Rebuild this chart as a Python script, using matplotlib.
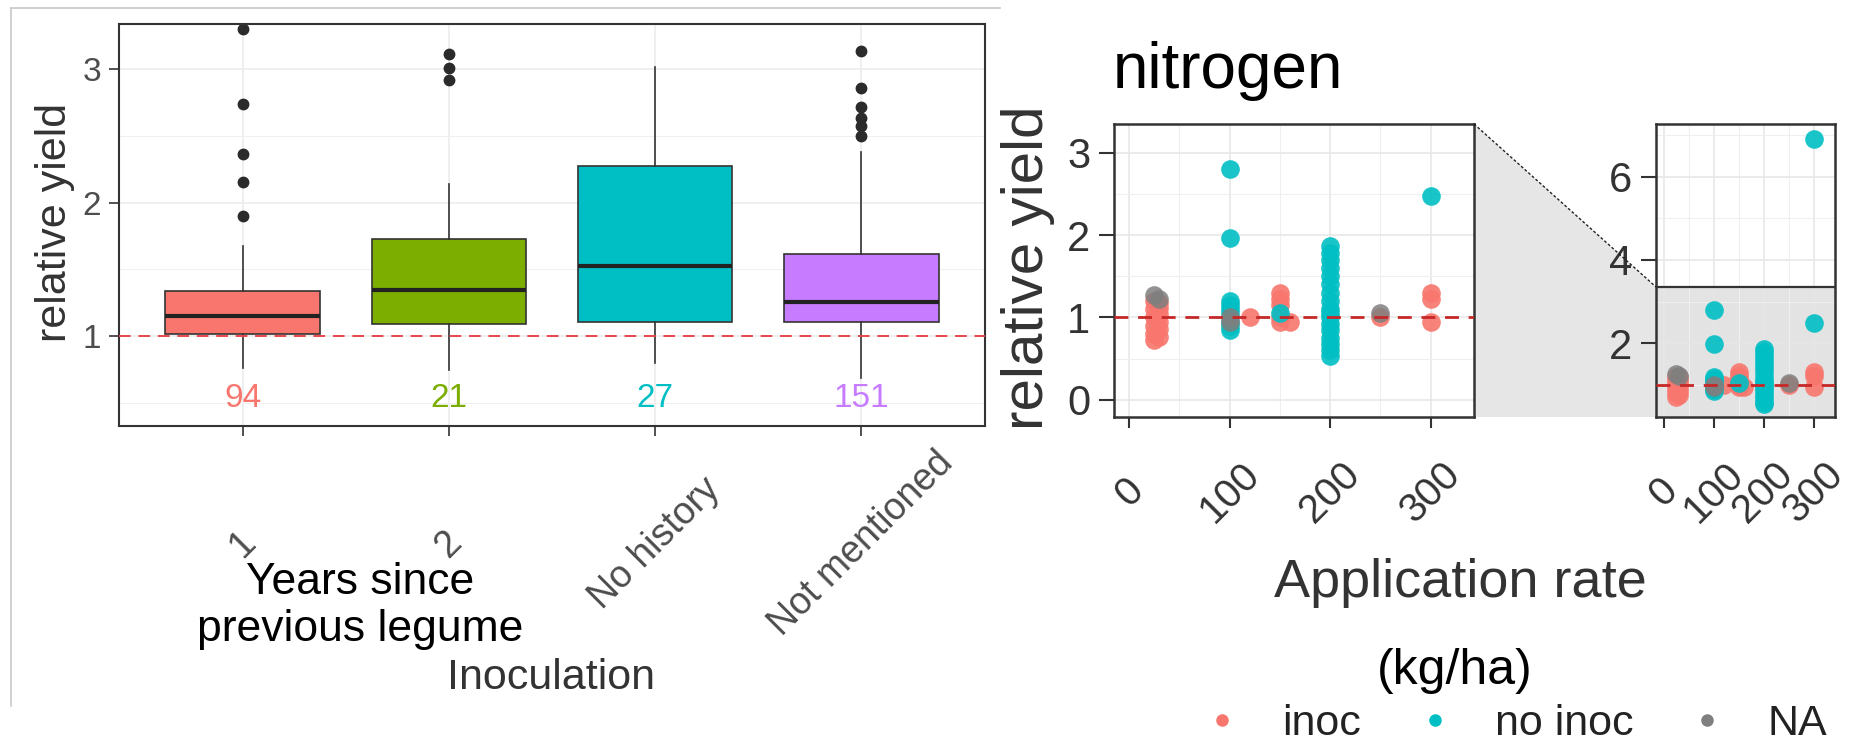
import matplotlib
matplotlib.use("Agg")
import matplotlib.pyplot as plt
from matplotlib.lines import Line2D
from matplotlib.patches import Polygon
from matplotlib.ticker import FixedLocator

plt.rcParams["font.family"] = ["Liberation Sans", "DejaVu Sans"]

# =========================
# Data: left panel (boxplots of relative yield by inoculation history)
# =========================

groups = ["1", "2", "No history", "Not mentioned"]
counts = [94, 21, 27, 151]
box_colors = ["#F8766D", "#7CAE00", "#00BFC4", "#C77CFF"]

q1 = [1.015, 1.09, 1.107, 1.103]
med = [1.152, 1.345, 1.527, 1.257]
q3 = [1.337, 1.729, 2.27, 1.614]
whislo = [0.763, 0.745, 0.795, 0.685]
whishi = [1.676, 2.136, 3.017, 2.38]
fliers = [
    [3.30, 2.74, 2.36, 2.15, 1.90],
    [3.11, 3.005, 2.92],
    [],
    [3.137, 2.855, 2.713, 2.63, 2.573, 2.498],
]

# =========================
# Data: right panels (nitrogen application rate)
# =========================

inoc_rate = [25, 25, 25, 25, 25, 25, 30, 30, 30, 30, 30, 30,
             120, 150, 150, 150, 150, 150, 160, 250, 300, 300, 300]
inoc_yield = [0.72, 0.80, 0.90, 1.00, 1.10, 1.20, 0.76, 0.86, 0.95, 1.04, 1.12, 1.18,
              1.00, 1.30, 1.22, 1.15, 1.00, 0.95, 0.95, 1.00, 1.30, 1.22, 0.95]

noinoc_rate = [100, 100, 100, 100, 100, 100, 100, 100, 100, 150,
               200, 200, 200, 200, 200, 200, 200, 200, 200, 200, 200, 200, 200, 200, 200, 200, 200,
               300, 300]
noinoc_yield = [2.80, 1.97, 0.85, 0.90, 0.95, 1.05, 1.10, 1.15, 1.20, 1.05,
                0.53, 0.60, 0.68, 0.75, 0.85, 0.92, 1.00, 1.05, 1.10, 1.20, 1.30, 1.40, 1.50, 1.60, 1.70, 1.78, 1.87,
                2.48, 6.90]

na_rate = [25, 30, 100, 100, 250]
na_yield = [1.27, 1.22, 1.00, 0.95, 1.05]

zoom_top = 3.35

# =========================
# Figure
# =========================

W, H = 1870, 748
fig = plt.figure(figsize=(W / 100, H / 100), dpi=100)


def px_axes(x0, y0, x1, y1):
    return fig.add_axes([x0 / W, 1 - y1 / H, (x1 - x0) / W, (y1 - y0) / H])


def fx(x):
    return x / W


def fy(y):
    return 1 - y / H


dark = "#333333"
tick_gray = "#4d4d4d"

# outer light frame of the left picture
fig.add_artist(Line2D([fx(11), fx(1000)], [fy(8), fy(8)], color="#c8c8c8", lw=1.2))
fig.add_artist(Line2D([fx(11), fx(11)], [fy(8), fy(706)], color="#c8c8c8", lw=1.2))

# -------- left panel --------
ax1 = px_axes(119, 24, 985, 426)

stats = []
for i in range(len(groups)):
    stats.append(dict(q1=q1[i], med=med[i], q3=q3[i],
                      whislo=whislo[i], whishi=whishi[i], fliers=fliers[i]))

bp = ax1.bxp(
    stats,
    positions=[1, 2, 3, 4],
    widths=0.75,
    patch_artist=True,
    showcaps=False,
    boxprops=dict(edgecolor=dark, linewidth=1.2),
    medianprops=dict(color="#222222", linewidth=3.0),
    whiskerprops=dict(color=dark, linewidth=1.2),
    flierprops=dict(marker="o", markerfacecolor="#2b2b2b",
                    markeredgecolor="#2b2b2b", markersize=7.5),
)
for patch, c in zip(bp["boxes"], box_colors):
    patch.set_facecolor(c)

ax1.axhline(1, color="#e8474b", lw=1.4, ls=(0, (6, 4)), zorder=5)

for i, n in enumerate(counts):
    ax1.text(i + 1, 0.535, str(n), color=box_colors[i], ha="center",
             va="center", fontsize=24)

ax1.set_xlim(0.4, 4.6)
ax1.set_ylim(0.326, 3.337)
ax1.set_xticks([1, 2, 3, 4])
ax1.set_xticklabels(groups)
ax1.set_yticks([1, 2, 3])
ax1.yaxis.set_minor_locator(FixedLocator([0.5, 1.5, 2.5]))
ax1.set_axisbelow(True)
ax1.grid(which="major", color="#ebebeb", lw=1.1)
ax1.yaxis.grid(True, which="minor", color="#f0f0f0", lw=0.8)
ax1.tick_params(which="minor", length=0)
ax1.tick_params(axis="y", length=7, width=1.2, color=dark, labelsize=24,
                labelcolor=tick_gray, pad=6)
ax1.tick_params(axis="x", length=7, width=1.2, color=dark, labelsize=27,
                labelcolor=tick_gray, pad=78)
plt.setp(ax1.get_xticklabels(), rotation=45, ha="center", va="center")
for s in ax1.spines.values():
    s.set_color(dark)
    s.set_linewidth(1.5)

fig.text(fx(55), fy(222), "relative yield", rotation=90, ha="center",
         va="center", fontsize=31, color=dark)
fig.text(fx(551), fy(678), "Inoculation", ha="center", va="center",
         fontsize=31, color=dark)
fig.text(fx(360), fy(606), "Years since\nprevious legume", ha="center",
         va="center", fontsize=32, color="black")

# -------- right panels --------
ax2 = px_axes(1114, 124, 1474, 417)
ax3 = px_axes(1656, 124, 1835, 417)

for ax in (ax2, ax3):
    ax.scatter(inoc_rate, inoc_yield, s=180, color="#F8766D", alpha=0.9,
               linewidths=0, zorder=3)
    ax.scatter(noinoc_rate, noinoc_yield, s=180, color="#00BFC4", alpha=0.9,
               linewidths=0, zorder=3)
    ax.scatter(na_rate, na_yield, s=180, color="#7f7f7f", alpha=0.85,
               linewidths=0, zorder=3)
    ax.axhline(1, color="#c62828", lw=2.0, ls=(0, (5, 3.5)), zorder=4)
    ax.set_xlim(-15, 343)
    ax.set_xticks([0, 100, 200, 300])
    ax.xaxis.set_minor_locator(FixedLocator([50, 150, 250]))
    ax.set_axisbelow(True)
    ax.grid(which="major", color="#e6e6e6", lw=1.1)
    ax.grid(which="minor", color="#efefef", lw=0.8)
    ax.tick_params(which="minor", length=0)
    ax.tick_params(axis="y", length=11, width=1.5, color=dark, labelsize=30,
                   labelcolor=dark, pad=6)
    ax.tick_params(axis="x", length=8, width=1.5, color=dark, labelsize=29,
                   labelcolor=dark, pad=46)
    plt.setp(ax.get_xticklabels(), rotation=45, ha="center", va="center")
    for s in ax.spines.values():
        s.set_color(dark)
        s.set_linewidth(1.8)

ax2.set_ylim(-0.21, zoom_top)
ax2.set_yticks([0, 1, 2, 3])
ax2.yaxis.set_minor_locator(FixedLocator([0.5, 1.5, 2.5]))

ax3.set_ylim(0.23, 7.26)
ax3.set_yticks([2, 4, 6])
ax3.yaxis.set_minor_locator(FixedLocator([1, 3, 5, 7]))
ax3.axhspan(-1, zoom_top, facecolor="#e3e3e3", edgecolor="none", zorder=0.2)
ax3.axhline(zoom_top, color=dark, lw=1.6, zorder=2)

# zoom connector between the two panels
to_fig = fig.transFigure.inverted()
p_tl = to_fig.transform(ax2.transAxes.transform((1, 1)))
p_bl = to_fig.transform(ax2.transAxes.transform((1, 0)))
p_zt = to_fig.transform(ax3.transData.transform((ax3.get_xlim()[0], zoom_top)))
p_zb = to_fig.transform(ax3.transAxes.transform((0, 0)))
fig.add_artist(Polygon([p_tl, p_zt, p_zb, p_bl], closed=True,
                       facecolor="#e6e6e6", edgecolor="none", zorder=0))
fig.add_artist(Line2D([p_tl[0], p_zt[0]], [p_tl[1], p_zt[1]], color="#222222",
                      lw=1.0, ls=(0, (2, 1.5))))

fig.text(fx(1113), fy(88), "nitrogen", ha="left", va="baseline",
         fontsize=46, color="black")
fig.text(fx(1028), fy(268), "relative yield", rotation=90, ha="center",
         va="center", fontsize=42, color=dark)
fig.text(fx(1460), fy(583), "Application rate", ha="center", va="center",
         fontsize=39, color=dark)
fig.text(fx(1455), fy(671), "(kg/ha)", ha="center", va="center",
         fontsize=36, color="black")

handles = [
    Line2D([], [], marker="o", ls="", color="#F8766D", markersize=8),
    Line2D([], [], marker="o", ls="", color="#00BFC4", markersize=8),
    Line2D([], [], marker="o", ls="", color="#7f7f7f", markersize=8),
]
leg = fig.legend(handles, ["inoc", "no inoc", "NA"], loc="center",
                 bbox_to_anchor=(fx(1518), fy(724)), ncol=3, frameon=False,
                 fontsize=31, handlelength=0.6, handletextpad=1.1,
                 columnspacing=1.4)
for t in leg.get_texts():
    t.set_color("#222222")

fig.savefig("out.png", dpi=100)
